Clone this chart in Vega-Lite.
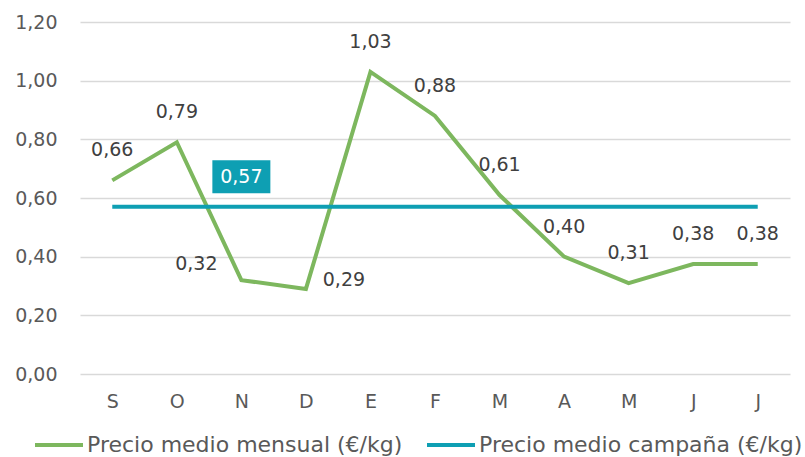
{
  "$schema": "https://vega.github.io/schema/vega-lite/v6.json",
  "width": 710,
  "height": 352,
  "autosize": {"type": "pad"},
  "padding": {"left": 14, "top": 13, "right": 15, "bottom": 0},
  "background": "white",
  "config": {
    "locale": {"number": {"decimal": ",", "thousands": ".", "grouping": [3], "currency": ["", " €"]}},
    "view": {"stroke": null},
    "font": "DejaVu Sans"
  },
  "data": {
    "values": [
      {"mes": "Sep", "serie": "Precio medio mensual (€/kg)", "precio": 0.66},
      {"mes": "Oct", "serie": "Precio medio mensual (€/kg)", "precio": 0.79},
      {"mes": "Nov", "serie": "Precio medio mensual (€/kg)", "precio": 0.32},
      {"mes": "Dic", "serie": "Precio medio mensual (€/kg)", "precio": 0.29},
      {"mes": "Ene", "serie": "Precio medio mensual (€/kg)", "precio": 1.03},
      {"mes": "Feb", "serie": "Precio medio mensual (€/kg)", "precio": 0.88},
      {"mes": "Mar", "serie": "Precio medio mensual (€/kg)", "precio": 0.61},
      {"mes": "Abr", "serie": "Precio medio mensual (€/kg)", "precio": 0.40},
      {"mes": "May", "serie": "Precio medio mensual (€/kg)", "precio": 0.31},
      {"mes": "Jun", "serie": "Precio medio mensual (€/kg)", "precio": 0.375},
      {"mes": "Jul", "serie": "Precio medio mensual (€/kg)", "precio": 0.375},
      {"mes": "Sep", "serie": "Precio medio campaña (€/kg)", "precio": 0.57},
      {"mes": "Oct", "serie": "Precio medio campaña (€/kg)", "precio": 0.57},
      {"mes": "Nov", "serie": "Precio medio campaña (€/kg)", "precio": 0.57},
      {"mes": "Dic", "serie": "Precio medio campaña (€/kg)", "precio": 0.57},
      {"mes": "Ene", "serie": "Precio medio campaña (€/kg)", "precio": 0.57},
      {"mes": "Feb", "serie": "Precio medio campaña (€/kg)", "precio": 0.57},
      {"mes": "Mar", "serie": "Precio medio campaña (€/kg)", "precio": 0.57},
      {"mes": "Abr", "serie": "Precio medio campaña (€/kg)", "precio": 0.57},
      {"mes": "May", "serie": "Precio medio campaña (€/kg)", "precio": 0.57},
      {"mes": "Jun", "serie": "Precio medio campaña (€/kg)", "precio": 0.57},
      {"mes": "Jul", "serie": "Precio medio campaña (€/kg)", "precio": 0.57}
    ]
  },
  "encoding": {
    "x": {
      "field": "mes",
      "type": "ordinal",
      "scale": {"domain": ["Sep", "Oct", "Nov", "Dic", "Ene", "Feb", "Mar", "Abr", "May", "Jun", "Jul"], "padding": 0.5},
      "axis": {
        "title": null,
        "labelAngle": 0,
        "labelExpr": "substring(datum.value, 0, 1)",
        "domain": false,
        "ticks": false,
        "grid": false,
        "labelFontSize": 19,
        "labelColor": "#595959",
        "labelPadding": 18
      }
    },
    "y": {
      "field": "precio",
      "type": "quantitative",
      "scale": {"domain": [0, 1.2]},
      "axis": {
        "title": null,
        "values": [0, 0.2, 0.4, 0.6, 0.8, 1.0, 1.2],
        "format": ".2f",
        "domain": false,
        "ticks": false,
        "gridColor": "#d9d9d9",
        "gridWidth": 1.5,
        "labelFontSize": 19,
        "labelColor": "#595959",
        "labelPadding": 23
      }
    }
  },
  "layer": [
    {
      "transform": [{"filter": "datum.serie == 'Precio medio mensual (€/kg)'"}],
      "mark": {"type": "line", "strokeWidth": 4},
      "encoding": {
        "color": {
          "field": "serie",
          "type": "nominal",
          "scale": {"domain": ["Precio medio mensual (€/kg)", "Precio medio campaña (€/kg)"], "range": ["#7DB75E", "#0E9FB3"]},
          "legend": {
            "title": null,
            "orient": "none",
            "direction": "horizontal",
            "legendX": -47,
            "legendY": 397,
            "symbolType": "stroke",
            "symbolStrokeWidth": 4,
            "symbolSize": 2304,
            "labelFontSize": 22,
            "labelColor": "#595959",
            "labelOffset": 2,
            "columnPadding": 16,
            "labelLimit": 400
          }
        }
      }
    },
    {
      "transform": [{"filter": "datum.serie == 'Precio medio campaña (€/kg)'"}],
      "mark": {"type": "line", "strokeWidth": 4},
      "encoding": {"color": {"field": "serie", "type": "nominal"}}
    },
    {
      "transform": [{"filter": "datum.serie == 'Precio medio mensual (€/kg)' && datum.mes != 'Nov' && datum.mes != 'Dic'"}],
      "mark": {"type": "text", "yOffset": -30, "fontSize": 19, "color": "#404040"},
      "encoding": {"text": {"field": "precio", "type": "quantitative", "format": ".2f"}}
    },
    {
      "transform": [{"filter": "datum.serie == 'Precio medio mensual (€/kg)' && datum.mes == 'Nov'"}],
      "mark": {"type": "text", "xOffset": -45, "yOffset": -16, "fontSize": 19, "color": "#404040"},
      "encoding": {"text": {"field": "precio", "type": "quantitative", "format": ".2f"}}
    },
    {
      "transform": [{"filter": "datum.serie == 'Precio medio mensual (€/kg)' && datum.mes == 'Dic'"}],
      "mark": {"type": "text", "xOffset": 38, "yOffset": -9, "fontSize": 19, "color": "#404040"},
      "encoding": {"text": {"field": "precio", "type": "quantitative", "format": ".2f"}}
    },
    {
      "transform": [{"filter": "datum.serie == 'Precio medio campaña (€/kg)' && datum.mes == 'Nov'"}],
      "mark": {"type": "point", "shape": "M-1,-0.569H1V0.569H-1Z", "size": 3364, "filled": true, "opacity": 1, "color": "#0E9FB3", "yOffset": -30},
      "encoding": {}
    },
    {
      "transform": [{"filter": "datum.serie == 'Precio medio campaña (€/kg)' && datum.mes == 'Nov'"}],
      "mark": {"type": "text", "yOffset": -30, "fontSize": 19, "color": "white"},
      "encoding": {"text": {"field": "precio", "type": "quantitative", "format": ".2f"}}
    }
  ]
}
